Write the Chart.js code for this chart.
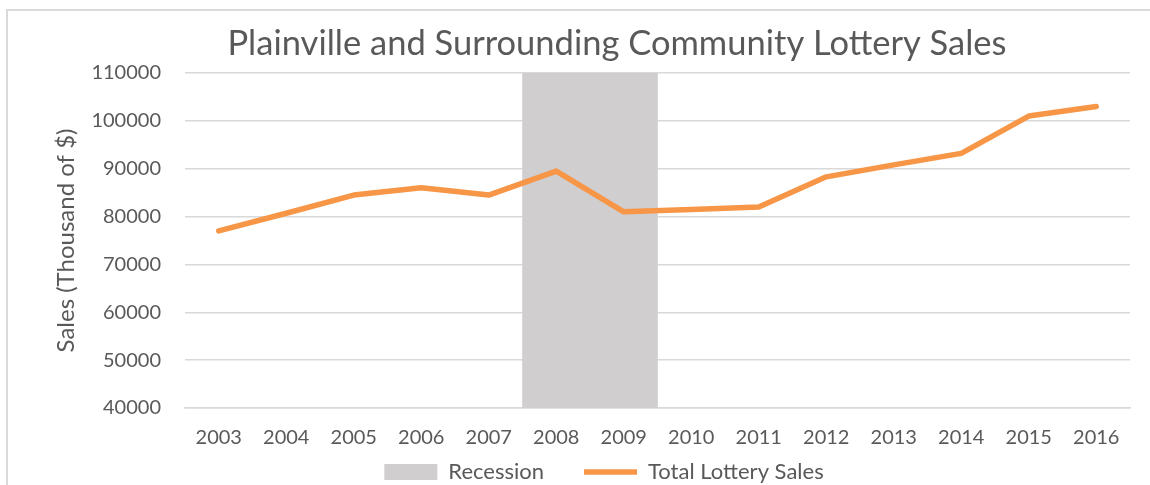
<!DOCTYPE html>
<html>
<head>
<meta charset="utf-8">
<script src="https://cdn.jsdelivr.net/npm/chart.js@4/dist/chart.umd.min.js"></script>
<style>
  html, body { margin: 0; padding: 0; background: #ffffff; }
  #wrap { position: relative; width: 1150px; height: 485px; overflow: hidden; }
  #frame { position: absolute; left: 6px; top: 9px; right: -10px; bottom: -10px;
           border-left: 2px solid #D9D9D9; border-top: 2px solid #D9D9D9; }
  canvas { position: absolute; left: 0; top: 0; }
</style>
</head>
<body>
<div id="wrap">
  <div id="frame"></div>
  <canvas id="c" width="1150" height="485"></canvas>
</div>
<script>
const TITLE = 'Plainville and Surrounding Community Lottery Sales';
const Y_TITLE = 'Sales (Thousand of $)';
const CATEGORIES = ['2003','2004','2005','2006','2007','2008','2009','2010','2011','2012','2013','2014','2015','2016'];
const SALES = [77000, 80700, 84500, 86000, 84500, 89500, 81000, 81500, 82000, 88300, 90800, 93200, 101000, 103000];
const RECESSION = [null, null, null, null, null, 110000, 110000, null, null, null, null, null, null, null];
const Y_TICKS = [40000, 50000, 60000, 70000, 80000, 90000, 100000, 110000];
const SERIES_NAMES = ['Recession', 'Total Lottery Sales'];

const FONT = 'Lato, "Open Sans", sans-serif';
const TEXT = '#595959';

const titlePlugin = {
  id: 'customTitle',
  afterDraw(chart) {
    const ctx = chart.ctx;
    ctx.save();
    ctx.font = '34.5px ' + FONT;
    ctx.fillStyle = TEXT;
    ctx.textAlign = 'center';
    ctx.textBaseline = 'alphabetic';
    ctx.fillText(TITLE, 617, 55);
    ctx.restore();
  }
};

function build() {
  new Chart(document.getElementById('c'), {
    data: {
      labels: CATEGORIES,
      datasets: [
        {
          type: 'bar',
          label: SERIES_NAMES[0],
          data: RECESSION,
          backgroundColor: '#D0CECE',
          borderWidth: 0,
          barPercentage: 1.0,
          categoryPercentage: 1.0,
          pointStyle: 'rect',
          order: 1
        },
        {
          type: 'line',
          label: SERIES_NAMES[1],
          data: SALES,
          borderColor: '#F79646',
          backgroundColor: '#F79646',
          borderWidth: 5.5,
          borderCapStyle: 'round',
          borderJoinStyle: 'round',
          pointRadius: 0,
          pointStyle: 'line',
          tension: 0,
          fill: false,
          order: 0
        }
      ]
    },
    options: {
      responsive: false,
      animation: false,
      layout: { padding: { left: 78, right: 20, top: 73, bottom: -8 } },
      plugins: {
        tooltip: { enabled: false },
        title: { display: false },
        legend: {
          display: true,
          position: 'bottom',
          labels: {
            usePointStyle: true,
            pointStyleWidth: 53,
            boxHeight: 16,
            padding: 40,
            color: TEXT,
            font: { family: FONT, size: 22 },
            sort: (a, b) => a.datasetIndex - b.datasetIndex
          }
        }
      },
      scales: {
        x: {
          type: 'category',
          offset: true,
          grid: { display: false, drawTicks: false },
          border: { display: true, color: '#D9D9D9', width: 1.5 },
          ticks: { color: TEXT, font: { family: FONT, size: 20 }, padding: 18, maxRotation: 0, autoSkip: false },
          afterFit(scale) {
            scale.height = 13;
            scale._computeLabelArea = () => undefined;
          }
        },
        y: {
          type: 'linear',
          min: 40000,
          max: 110000,
          afterBuildTicks(scale) { scale.ticks = Y_TICKS.map(v => ({ value: v })); },
          grid: { color: '#D9D9D9', lineWidth: 1.5, drawTicks: false },
          border: { display: false },
          ticks: { color: TEXT, font: { family: FONT, size: 20 }, padding: 24, callback: v => String(v) },
          title: {
            display: true,
            text: Y_TITLE,
            color: TEXT,
            font: { family: FONT, size: 24 },
            padding: { top: -26, bottom: 0 }
          },
          afterFit(scale) { scale.width = 107; }
        }
      }
    },
    plugins: [titlePlugin]
  });
}

if (document.fonts && document.fonts.load) {
  Promise.all([document.fonts.load('20px Lato'), document.fonts.load('34px Lato')]).then(build, build);
} else {
  build();
}
</script>
</body>
</html>
